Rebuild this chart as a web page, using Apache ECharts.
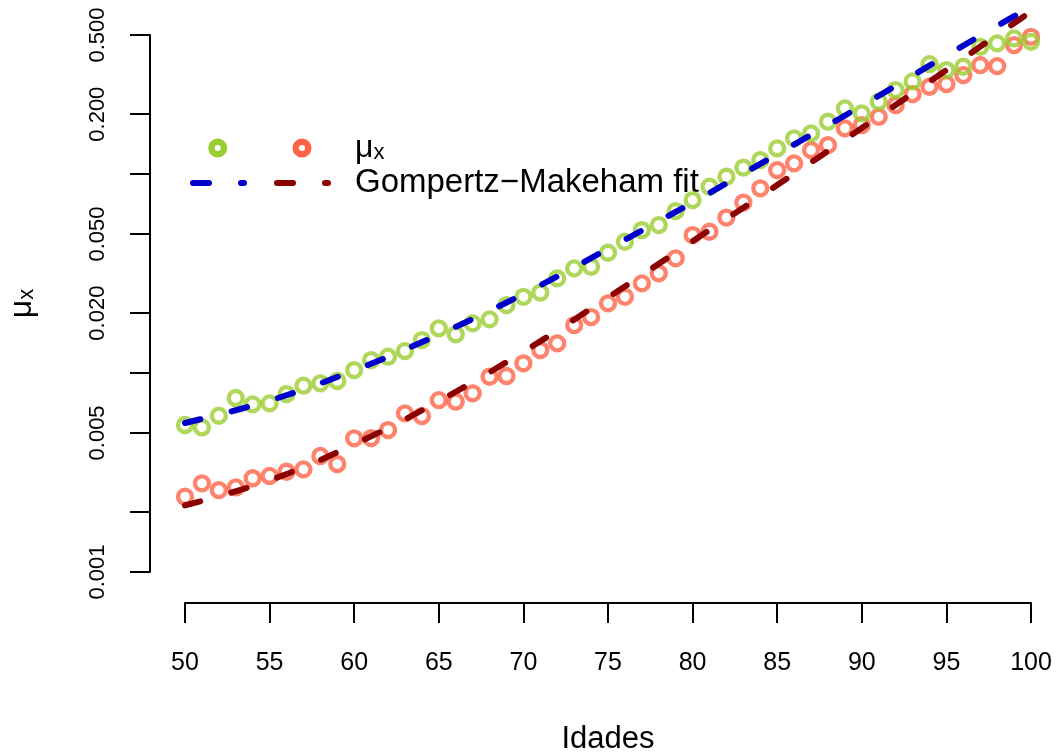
<!DOCTYPE html>
<html><head><meta charset="utf-8">
<script src="https://cdn.jsdelivr.net/npm/echarts@6/dist/echarts.min.js"></script>
<style>html,body{margin:0;padding:0;background:#fff}#c{width:1056px;height:754px}</style>
</head><body><div id="c"></div>
<script>
const ages = [50,51,52,53,54,55,56,57,58,59,60,61,62,63,64,65,66,67,68,69,70,71,72,73,74,75,76,77,78,79,80,81,82,83,84,85,86,87,88,89,90,91,92,93,94,95,96,97,98,99,100];
const greenRates = [0.00548,0.00533,0.00610,0.00749,0.00696,0.00704,0.00784,0.00864,0.00888,0.00912,
  0.01035,0.01162,0.01208,0.01290,0.01465,0.01678,0.01565,0.01777,0.01861,0.02196,
  0.02417,0.02538,0.02991,0.03358,0.03421,0.04022,0.04568,0.05231,0.05542,0.06520,
  0.07402,0.08636,0.09692,0.1078,0.1176,0.1346,0.1511,0.1601,0.1832,0.2139,
  0.2018,0.2309,0.2643,0.2922,0.3570,0.3332,0.3462,0.4362,0.4537,0.4807,0.4622];
const redRates = [0.00239,0.00279,0.00258,0.00266,0.00296,0.00304,0.00319,0.00328,0.00383,0.00349,
  0.00470,0.00471,0.00517,0.00627,0.00608,0.00731,0.00718,0.00791,0.00958,0.00966,
  0.01119,0.01305,0.01410,0.01742,0.01912,0.02240,0.02417,0.02823,0.03170,0.03772,
  0.04937,0.05129,0.06045,0.07190,0.08476,0.1047,0.1132,0.1320,0.1398,0.1697,
  0.1763,0.1940,0.2222,0.2523,0.2747,0.2835,0.3145,0.3529,0.3488,0.4448,0.4897];
const fitAges = [50,55,60,65,70,75,80,85,90,95,100];
const greenFit = [0.00561,0.00727,0.01031,0.01560,0.02495,0.04207,0.07199,0.1259,0.2204,0.3945,0.6955];
const redFit = [0.00216,0.00289,0.00438,0.00722,0.01279,0.02398,0.04595,0.08806,0.1703,0.3332,0.6567];
const yTickValues = [0.001,0.002,0.005,0.01,0.02,0.05,0.1,0.2,0.5];
const yLabelValues = [0.001,0.005,0.02,0.05,0.2,0.5];
const xTickLabels = [50,55,60,65,70,75,80,85,90,95,100];

const L = Math.log10;
const pts = (xs, ys) => xs.map((x, i) => [x, L(ys[i])]);
const FONT = '"Liberation Sans", Arial, Helvetica, sans-serif';
const GREEN = '#9ACD32', RED = '#FF6347', BLUE = '#0000CD', DRED = '#8B0000';
const DASH = [16, 32];

const chart = echarts.init(document.getElementById('c'), null, {renderer: 'canvas'});
chart.setOption({
  animation: false,
  backgroundColor: '#fff',
  textStyle: {fontFamily: FONT, color: '#000'},
  grid: {left: 185, right: 25, top: 35, bottom: 182, containLabel: false, outerBoundsMode: 'none'},
  xAxis: {
    type: 'value', min: 50, max: 100, interval: 5, offset: 31,
    name: 'Idades', nameLocation: 'middle', nameGap: 121,
    nameTextStyle: {fontSize: 31, fontFamily: FONT, color: '#000'},
    axisLine: {lineStyle: {color: '#000', width: 2}},
    axisTick: {length: 20, lineStyle: {color: '#000', width: 2}, customValues: xTickLabels},
    axisLabel: {fontSize: 25, color: '#000', fontFamily: FONT, margin: 48, customValues: xTickLabels},
    splitLine: {show: false}
  },
  yAxis: {
    type: 'value', min: L(0.001), max: L(0.5), offset: 35,
    name: '{m|μ}{s|x}', nameLocation: 'middle', nameRotate: 90, nameGap: 112,
    nameTextStyle: {fontFamily: FONT, color: '#000', rich: {
      m: {fontSize: 32, fontFamily: FONT, color: '#000'},
      s: {fontSize: 22, fontFamily: FONT, color: '#000', padding: [0, 0, -9, 0]}
    }},
    axisLine: {lineStyle: {color: '#000', width: 2}},
    axisTick: {length: 20, lineStyle: {color: '#000', width: 2}, customValues: yTickValues.map(L)},
    axisLabel: {fontSize: 22, color: '#000', fontFamily: FONT, rotate: 90, margin: 41,
      customValues: yLabelValues.map(L),
      formatter: v => Math.pow(10, v).toFixed(3)},
    splitLine: {show: false}
  },
  series: [
    {type: 'scatter', name: 'red', data: pts(ages, redRates), clip: false,
      symbol: 'circle', symbolSize: 14,
      itemStyle: {color: 'rgba(0,0,0,0)', borderColor: RED, borderWidth: 4.3}},
    {type: 'scatter', name: 'green', data: pts(ages, greenRates), clip: false,
      symbol: 'circle', symbolSize: 14,
      itemStyle: {color: 'rgba(0,0,0,0)', borderColor: GREEN, borderWidth: 4.3}},
    {type: 'line', name: 'redFit', data: pts(fitAges, redFit), clip: false, smooth: 0.4,
      showSymbol: false, lineStyle: {color: DRED, width: 6, type: DASH, cap: 'round'}},
    {type: 'line', name: 'greenFit', data: pts(fitAges, greenFit), clip: false, smooth: 0.4,
      showSymbol: false, lineStyle: {color: BLUE, width: 6, type: DASH, cap: 'round'}}
  ],
  graphic: [
    {type: 'circle', shape: {cx: 217.7, cy: 148, r: 6.3}, style: {fill: 'none', stroke: GREEN, lineWidth: 6.5}},
    {type: 'circle', shape: {cx: 302, cy: 148, r: 6.3}, style: {fill: 'none', stroke: RED, lineWidth: 6.5}},
    {type: 'text', x: 355, y: 148, style: {text: '{m|μ}{s|x}', verticalAlign: 'middle', fill: '#000',
      rich: {m: {fontSize: 32, fontFamily: FONT, fill: '#000'}, s: {fontSize: 22, fontFamily: FONT, fill: '#000', padding: [0,0,-9,0]}}}},
    {type: 'line', shape: {x1: 193, y1: 183, x2: 244, y2: 183}, style: {stroke: BLUE, lineWidth: 6, lineDash: DASH, lineCap: 'round'}},
    {type: 'line', shape: {x1: 277, y1: 183, x2: 328, y2: 183}, style: {stroke: DRED, lineWidth: 6, lineDash: DASH, lineCap: 'round'}},
    {type: 'text', x: 355, y: 183, style: {text: 'Gompertz\u2212Makeham fit', verticalAlign: 'middle', fill: '#000', fontSize: 33, fontFamily: FONT}}
  ]
});
</script></body></html>
